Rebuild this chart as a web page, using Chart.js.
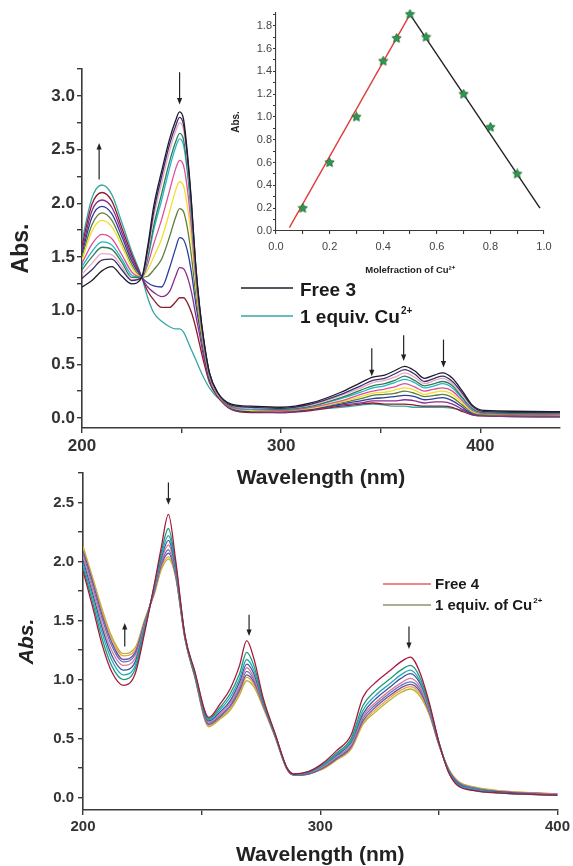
<!DOCTYPE html>
<html>
<head>
<meta charset="utf-8">
<script src="https://cdn.jsdelivr.net/npm/chart.js@4.4.1/dist/chart.umd.min.js"></script>
<style>
  body { margin: 0; background: #fff; }
  #wrap { position: relative; width: 573px; height: 866px; }
  canvas { position: absolute; }
</style>
</head>
<body>
<div id="wrap">
  <canvas id="topChart" width="573" height="495" style="left:0;top:0"></canvas>
  <canvas id="bottomChart" width="573" height="411" style="left:0;top:455px"></canvas>
  <canvas id="insetChart" width="353" height="285" style="left:220px;top:0"></canvas>
</div>
<script>
// ---- top panel: compound 3 titrated with Cu2+ ----
const topWavelength = [200,205,210,215,220,225,230,233,236,240,244,247,249,251,253,255,257,259,261,264,268,275,285,300,315,330,340,346,352,357,362,367,372,377,381,386,391,396,402,440];

const free3 = [1.22,1.28,1.37,1.41,1.32,1.25,1.31, 1.60,1.97,2.30,2.60,2.77,2.85,2.78,2.45,2.00,1.45,1.05,0.75,0.42,0.24, 0.13,0.11,0.10,0.14,0.24,0.33,0.38,0.40,0.44,0.48,0.44,0.37,0.40,0.42,0.37,0.25,0.12,0.07,0.06];
const t1 = [1.30,1.38,1.47,1.48,1.38,1.28,1.31, 1.57,1.92,2.25,2.55,2.72,2.80,2.73,2.42,1.98,1.44,1.04,0.74,0.42,0.24, 0.12,0.10,0.09,0.13,0.22,0.30,0.35,0.37,0.41,0.45,0.41,0.34,0.37,0.39,0.34,0.23,0.11,0.06,0.05];
const t2 = [1.34,1.44,1.53,1.52,1.41,1.29,1.31, 1.54,1.87,2.19,2.49,2.67,2.75,2.68,2.38,1.95,1.42,1.03,0.73,0.41,0.23, 0.12,0.09,0.09,0.12,0.21,0.28,0.33,0.35,0.38,0.42,0.38,0.32,0.35,0.37,0.32,0.21,0.10,0.06,0.05];
const t3 = [1.38,1.50,1.59,1.57,1.45,1.31,1.31, 1.50,1.79,2.09,2.39,2.57,2.65,2.59,2.31,1.90,1.40,1.02,0.72,0.41,0.23, 0.11,0.09,0.08,0.11,0.19,0.26,0.30,0.32,0.35,0.39,0.35,0.30,0.32,0.34,0.30,0.19,0.09,0.05,0.04];
const t4 = [1.41,1.55,1.64,1.61,1.48,1.33,1.31, 1.48,1.75,2.03,2.33,2.52,2.60,2.54,2.27,1.87,1.38,1.01,0.72,0.40,0.23, 0.11,0.08,0.08,0.11,0.18,0.24,0.28,0.30,0.33,0.36,0.33,0.28,0.30,0.32,0.28,0.18,0.08,0.05,0.04];
const t5 = [1.44,1.62,1.71,1.67,1.52,1.36,1.31, 1.43,1.62,1.85,2.12,2.32,2.40,2.35,2.12,1.76,1.32,0.98,0.70,0.40,0.22, 0.10,0.08,0.07,0.10,0.16,0.22,0.25,0.27,0.29,0.32,0.29,0.25,0.27,0.28,0.25,0.16,0.07,0.04,0.03];
const t6 = [1.47,1.74,1.84,1.78,1.60,1.40,1.31, 1.38,1.50,1.67,1.92,2.12,2.20,2.16,1.96,1.65,1.26,0.94,0.68,0.39,0.22, 0.10,0.07,0.07,0.09,0.15,0.20,0.23,0.24,0.26,0.28,0.26,0.22,0.24,0.25,0.22,0.14,0.06,0.04,0.03];
const t7 = [1.50,1.80,1.91,1.84,1.64,1.43,1.31, 1.32,1.38,1.48,1.69,1.87,1.95,1.92,1.76,1.50,1.17,0.90,0.66,0.38,0.22, 0.09,0.07,0.06,0.09,0.14,0.18,0.21,0.22,0.23,0.25,0.23,0.20,0.21,0.22,0.19,0.12,0.05,0.03,0.02];
const t8 = [1.53,1.87,1.97,1.90,1.69,1.46,1.31, 1.26,1.23,1.22,1.40,1.58,1.68,1.66,1.55,1.35,1.08,0.85,0.63,0.37,0.21, 0.09,0.06,0.06,0.08,0.13,0.16,0.18,0.19,0.20,0.21,0.20,0.17,0.18,0.19,0.16,0.10,0.04,0.03,0.02];
const t9 = [1.56,1.93,2.03,1.96,1.73,1.49,1.31, 1.22,1.17,1.13,1.18,1.32,1.40,1.39,1.31,1.17,0.97,0.78,0.58,0.35,0.21, 0.08,0.06,0.05,0.08,0.12,0.14,0.16,0.16,0.16,0.17,0.16,0.14,0.15,0.15,0.13,0.08,0.03,0.02,0.01];
const t10 = [1.60,1.99,2.10,2.02,1.77,1.52,1.31, 1.18,1.10,1.03,1.03,1.08,1.12,1.12,1.07,0.98,0.85,0.69,0.53,0.33,0.20, 0.08,0.05,0.05,0.07,0.11,0.13,0.14,0.13,0.13,0.13,0.12,0.11,0.11,0.11,0.10,0.06,0.03,0.02,0.01];
const cu3Equiv1 = [1.65,2.05,2.17,2.08,1.82,1.55,1.31, 1.12,0.98,0.90,0.85,0.83,0.83,0.80,0.72,0.63,0.55,0.46,0.38,0.28,0.19, 0.11,0.08,0.07,0.08,0.10,0.12,0.13,0.12,0.11,0.11,0.10,0.10,0.10,0.10,0.09,0.07,0.05,0.04,0.04];

const topCurves = [free3, t1, t2, t3, t4, t5, t6, t7, t8, t9, t10, cu3Equiv1];
const topColors = ['#1d1b2b','#3b2d6e','#e9a6c6','#2f7f52','#1fb5c9','#df4f98','#efe02e','#5e7c3a','#2d3b9d','#8b2c8c','#8c1d2c','#36a6a6'];

// arrows: wavelength, tail value, head value
const topArrows = [[208.6, 2.22, 2.56], [249, 3.22, 2.92], [345.5, 0.65, 0.39], [361.5, 0.77, 0.53], [381.5, 0.73, 0.47]];

// ---- inset: Job's plot ----
const moleFraction = [0.1, 0.2, 0.3, 0.4, 0.45, 0.5, 0.56, 0.7, 0.8, 0.9];
const jobAbs = [0.2, 0.6, 1.0, 1.49, 1.69, 1.9, 1.7, 1.2, 0.91, 0.5];
const riseX = [0.05, 0.5];
const riseY = [0.03, 1.9];
const fallX = [0.5, 0.985];
const fallY = [1.9, 0.2];

// ---- bottom panel: compound 4 titrated with Cu2+ ----
const bottomWavelength = [200,204,208,212,217,222,226,230,233,236,239,243,247,253,258,262,266,269,272,276,281,286,289,295,301,307,313,318,323,329,334,338,342,346,350,354,358,365,375,400];

const free4 = [1.92,1.62,1.30,1.07,0.95,1.05,1.40,1.80,2.12,2.40,2.02,1.37,1.08,0.68,0.80,0.92,1.12,1.33,1.18,0.84,0.54,0.25,0.20,0.22,0.29,0.40,0.53,0.85,0.97,1.07,1.15,1.19,1.06,0.80,0.47,0.22,0.10,0.06,0.04,0.02];
const b1 = [1.95,1.66,1.35,1.12,1.00,1.09,1.42,1.79,2.08,2.28,1.98,1.37,1.07,0.67,0.77,0.88,1.05,1.23,1.12,0.82,0.54,0.25,0.20,0.22,0.28,0.38,0.50,0.78,0.90,1.00,1.08,1.12,1.02,0.78,0.47,0.22,0.11,0.06,0.04,0.02];
const b2 = [1.98,1.70,1.40,1.17,1.04,1.12,1.44,1.78,2.05,2.22,1.96,1.36,1.06,0.66,0.75,0.85,1.01,1.17,1.08,0.81,0.53,0.25,0.20,0.21,0.27,0.37,0.48,0.74,0.86,0.96,1.04,1.08,0.99,0.77,0.47,0.23,0.11,0.07,0.04,0.02];
const b3 = [2.01,1.73,1.44,1.21,1.08,1.15,1.45,1.77,2.03,2.18,1.94,1.36,1.05,0.65,0.73,0.82,0.98,1.13,1.05,0.80,0.53,0.25,0.20,0.21,0.27,0.36,0.47,0.71,0.83,0.93,1.01,1.05,0.97,0.76,0.46,0.23,0.12,0.07,0.05,0.02];
const b4 = [2.04,1.77,1.48,1.25,1.12,1.18,1.47,1.76,2.01,2.14,1.92,1.36,1.05,0.64,0.71,0.80,0.95,1.10,1.02,0.79,0.53,0.24,0.20,0.21,0.26,0.35,0.45,0.69,0.80,0.90,0.97,1.01,0.94,0.74,0.46,0.23,0.12,0.07,0.05,0.03];
const b5 = [2.07,1.80,1.52,1.29,1.15,1.21,1.48,1.75,1.99,2.10,1.90,1.35,1.04,0.63,0.70,0.78,0.93,1.07,1.00,0.78,0.52,0.24,0.19,0.21,0.26,0.34,0.44,0.67,0.78,0.88,0.95,0.98,0.92,0.73,0.46,0.24,0.13,0.08,0.05,0.03];
const b6 = [2.09,1.83,1.55,1.32,1.17,1.23,1.49,1.74,1.97,2.07,1.89,1.35,1.04,0.62,0.69,0.77,0.91,1.04,0.98,0.78,0.52,0.24,0.19,0.20,0.25,0.33,0.43,0.65,0.76,0.86,0.93,0.96,0.90,0.72,0.45,0.24,0.13,0.08,0.05,0.03];
const b7 = [2.11,1.85,1.58,1.35,1.20,1.25,1.50,1.73,1.95,2.04,1.88,1.35,1.03,0.61,0.68,0.75,0.89,1.02,0.96,0.77,0.52,0.24,0.19,0.20,0.25,0.33,0.42,0.63,0.74,0.84,0.91,0.94,0.88,0.71,0.45,0.24,0.14,0.08,0.06,0.03];
const cu4Equiv1 = [2.13,1.87,1.60,1.37,1.22,1.27,1.51,1.72,1.93,2.02,1.87,1.34,1.03,0.60,0.67,0.74,0.87,0.99,0.94,0.76,0.51,0.24,0.19,0.20,0.24,0.32,0.41,0.62,0.72,0.82,0.89,0.92,0.86,0.70,0.45,0.25,0.14,0.09,0.06,0.03];

const bottomCurves = [free4, b1, b2, b3, b4, b5, b6, b7, cu4Equiv1];
const bottomColors = ['#a8183c','#1f9a78','#2aa8b8','#3b56a6','#e07a92','#5a78c0','#7a4c9e','#e3a548','#b9b32e'];

const bottomArrows = [[217.6, 1.28, 1.48], [236, 2.67, 2.48], [270, 1.55, 1.37], [337.4, 1.45, 1.26]];

const FONT = "'Liberation Sans', Arial, sans-serif";
Chart.defaults.font.family = FONT;
Chart.defaults.color = '#333';

function spectra(wl, curves, colors) {
    return curves.map(function(vals, i) {
        return {
            data: wl.map(function(w, j) { return { x: w, y: vals[j] }; }),
            borderColor: colors[i],
            borderWidth: 1.3,
            pointRadius: 0,
            cubicInterpolationMode: 'monotone',
            fill: false
        };
    });
}

// label only every `every` units on a finer tick grid
function majorOnly(every, digits) {
    return function(v) {
        const r = v / every;
        return Math.abs(r - Math.round(r)) < 1e-6 ? v.toFixed(digits) : '';
    };
}

function axis(opt) {
    return {
        type: 'linear',
        min: opt.min,
        max: opt.max,
        afterFit: function(s) {
            if (opt.size) {
                if (s.isHorizontal()) s.height = opt.size; else s.width = opt.size;
            }
        },
        border: { display: true, color: '#3a3a3a', width: opt.bw || 1.6 },
        grid: { display: true, drawOnChartArea: false, drawTicks: true, tickLength: opt.tickLength || 5, color: '#3a3a3a', lineWidth: opt.bw || 1.4 },
        ticks: {
            stepSize: opt.step,
            includeBounds: false,
            autoSkip: false,
            maxRotation: 0,
            padding: opt.pad,
            color: opt.tickColor || '#333',
            font: { size: opt.fontSize, weight: opt.weight || 'bold' },
            callback: opt.callback
        },
        title: {
            display: true,
            text: opt.title,
            color: opt.titleColor || '#222',
            font: { size: opt.titleSize, weight: 'bold', style: opt.titleStyle || 'normal', lineHeight: opt.titleLH || 1.2 },
            padding: opt.titlePad
        }
    };
}

function overlay(arrows, legend) {
    return {
        id: 'overlay',
        afterDatasetsDraw: function(chart) {
            const ctx = chart.ctx, xs = chart.scales.x, ys = chart.scales.y;
            ctx.save();
            ctx.strokeStyle = '#222';
            ctx.fillStyle = '#222';
            ctx.lineWidth = 1.2;
            arrows.forEach(function(a) {
                const x = xs.getPixelForValue(a[0]);
                const y0 = ys.getPixelForValue(a[1]);
                const y1 = ys.getPixelForValue(a[2]);
                const dir = y1 > y0 ? 1 : -1;
                ctx.beginPath();
                ctx.moveTo(x, y0);
                ctx.lineTo(x, y1 - dir * 4);
                ctx.stroke();
                ctx.beginPath();
                ctx.moveTo(x, y1);
                ctx.lineTo(x - 2.6, y1 - dir * 6.5);
                ctx.lineTo(x + 2.6, y1 - dir * 6.5);
                ctx.closePath();
                ctx.fill();
            });
            // legend
            legend.rows.forEach(function(r) {
                ctx.strokeStyle = r.color;
                ctx.lineWidth = 1.6;
                ctx.beginPath();
                ctx.moveTo(legend.x0, r.y);
                ctx.lineTo(legend.x1, r.y);
                ctx.stroke();
                ctx.fillStyle = '#1a1a1a';
                ctx.textBaseline = 'alphabetic';
                ctx.textAlign = 'left';
                ctx.font = 'bold ' + legend.size + 'px ' + FONT;
                ctx.fillText(r.text, legend.tx, r.base);
                if (r.sup) {
                    const w = ctx.measureText(r.text).width;
                    ctx.font = 'bold ' + Math.round(legend.size * 0.55) + 'px ' + FONT;
                    ctx.fillText(r.sup, legend.tx + w + 1, r.base - legend.size * 0.5);
                }
            });
            ctx.restore();
        }
    };
}

function baseOptions(padding, x, y) {
    return {
        responsive: false,
        animation: false,
        events: [],
        layout: { padding: padding },
        plugins: { legend: { display: false }, tooltip: { enabled: false } },
        scales: { x: x, y: y }
    };
}

// top chart
new Chart(document.getElementById('topChart'), {
    type: 'line',
    data: { datasets: spectra(topWavelength, topCurves, topColors) },
    options: baseOptions(
        { top: 69, right: 13, left: 0, bottom: 0 },
        axis({ min: 200, max: 440, step: 50, size: 67, pad: 3, fontSize: 17,
               callback: function(v) { return v % 100 === 0 ? v : ''; },
               title: 'Wavelength (nm)', titleSize: 21, titlePad: { top: 0, bottom: 4 } }),
        axis({ min: -0.093, max: 3.25, step: 0.25, size: 82, pad: 2, fontSize: 17,
               callback: majorOnly(0.5, 1),
               title: 'Abs.', titleSize: 23, titlePad: { top: 8, bottom: 0 } })
    ),
    plugins: [overlay(topArrows, {
        x0: 241, x1: 293, tx: 300, size: 19,
        rows: [
            { color: '#1d1b2b', y: 288, base: 296, text: 'Free 3' },
            { color: '#36a6a6', y: 316, base: 323, text: '1 equiv. Cu', sup: '2+' }
        ]
    })]
});

// bottom chart
new Chart(document.getElementById('bottomChart'), {
    type: 'line',
    data: { datasets: spectra(bottomWavelength, bottomCurves, bottomColors) },
    options: baseOptions(
        { top: 18, right: 13, left: 0, bottom: 0 },
        axis({ min: 200, max: 400, step: 50, size: 56, pad: 3, fontSize: 15,
               callback: function(v) { return v % 100 === 0 ? v : ''; },
               title: 'Wavelength (nm)', titleSize: 21, titleLH: 1.0, titlePad: { top: 0, bottom: 0 } }),
        axis({ min: -0.105, max: 2.75, step: 0.25, size: 83, pad: 4, fontSize: 15,
               callback: majorOnly(0.5, 1),
               title: 'Abs.', titleSize: 21, titleStyle: 'italic', titlePad: { top: 15, bottom: 0 } })
    ),
    plugins: [overlay(bottomArrows, {
        x0: 383, x1: 431, tx: 435, size: 15,
        rows: [
            { color: '#e4606a', y: 129, base: 134, text: 'Free 4' },
            { color: '#8c9466', y: 150, base: 155, text: '1 equiv. of Cu', sup: '2+' }
        ]
    })]
});

// inset (Job's plot)
function starImage(size, fill, stroke) {
    const c = document.createElement('canvas');
    c.width = c.height = size;
    const g = c.getContext('2d');
    const r = size / 2, ri = r * 0.45;
    g.beginPath();
    for (let i = 0; i < 10; i++) {
        const rad = i % 2 ? ri : r - 0.6;
        const a = -Math.PI / 2 + i * Math.PI / 5;
        g.lineTo(r + rad * Math.cos(a), r + rad * Math.sin(a));
    }
    g.closePath();
    g.fillStyle = fill;
    g.fill();
    g.strokeStyle = stroke;
    g.lineWidth = 0.7;
    g.stroke();
    return c;
}

function pairs(xs, ys) {
    return xs.map(function(x, i) { return { x: x, y: ys[i] }; });
}

const star = starImage(11, '#2c9a4c', '#1d5e33');

new Chart(document.getElementById('insetChart'), {
    type: 'line',
    data: {
        datasets: [
            { data: pairs(riseX, riseY), borderColor: '#e03c3c', borderWidth: 1.4, pointRadius: 0, order: 2 },
            { data: pairs(fallX, fallY), borderColor: '#222', borderWidth: 1.4, pointRadius: 0, order: 2 },
            { data: pairs(moleFraction, jobAbs), showLine: false, pointStyle: star, pointRadius: 5.5, clip: false, order: 1 }
        ]
    },
    options: baseOptions(
        { top: 13, right: 29, left: 0, bottom: 0 },
        axis({ min: 0, max: 1.0, step: 0.1, size: 54, pad: 6, fontSize: 11, weight: 'normal', tickLength: 3, bw: 1.1,
               tickColor: '#444', callback: majorOnly(0.2, 1),
               title: 'Molefraction of Cu²⁺', titleSize: 9.5, titlePad: { top: 0, bottom: 9 } }),
        axis({ min: 0, max: 1.912, step: 0.1, size: 56, pad: 1, fontSize: 11, weight: 'normal', tickLength: 3, bw: 1.1,
               tickColor: '#444', callback: majorOnly(0.2, 1),
               title: 'Abs.', titleSize: 10, titlePad: { top: 10, bottom: 0 } })
    )
});
</script>
</body>
</html>
